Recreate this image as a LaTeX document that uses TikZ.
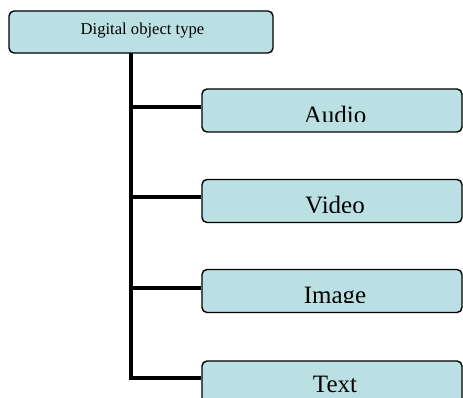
\documentclass[tikz,border=0pt]{standalone}
\usepackage{fontspec}
\setmainfont{Liberation Serif}
\definecolor{boxfill}{RGB}{186,224,227}
\begin{document}
\begin{tikzpicture}[x=1pt,y=-1pt,
  box/.style={draw=black,line width=1.4pt,fill=boxfill,rounded corners=5pt,minimum height=43pt,inner sep=0pt},
  leaf/.style={box,minimum width=260pt},
  rootbox/.style={box,minimum width=264pt,minimum height=42pt},
  conn/.style={line width=4.3pt,line join=miter,line cap=butt},
  lbl/.style={inner sep=0pt,anchor=base,font=\fontsize{25}{30}\selectfont},
  rootlbl/.style={inner sep=0pt,anchor=base,font=\fontsize{16.6}{20}\selectfont}]
\useasboundingbox (0,0) rectangle (463,398);
% root
\node[rootbox] (root) at (141,32) {};
\node[rootlbl] (rootl) at (142.5,34.3) {Digital object type};
% leaves
\node[leaf] (audio) at (332,110.5) {};
\node[leaf] (video) at (332,201) {};
\node[leaf] (image) at (332,291) {};
\node[leaf] (textbox) at (332,382.5) {};
\begin{scope}
\clip (audio.north west) rectangle (462,122);
\node[lbl] (audiol) at (335,123.5) {Audio};
\end{scope}
\begin{scope}
\clip (video.north west) rectangle (462,213);
\node[lbl] (videol) at (335,213.5) {Video};
\end{scope}
\begin{scope}
\clip (image.north west) rectangle (462,302);
\node[lbl] (imagel) at (335,303.5) {Image};
\end{scope}
\begin{scope}
\clip (textbox.north west) rectangle (462,392);
\node[lbl] (textl) at (335,392.5) {Text};
\end{scope}
% connectors
\coordinate (trunk) at (130.7,53);
\coordinate (aw) at ([yshift=3.5pt]audio.west);
\coordinate (vw) at ([yshift=4pt]video.west);
\coordinate (iw) at ([yshift=3pt]image.west);
\coordinate (tw) at ([yshift=4.5pt]textbox.west);
\draw[conn] (trunk) |- (tw);
\draw[conn] (trunk |- aw) -- (aw);
\draw[conn] (trunk |- vw) -- (vw);
\draw[conn] (trunk |- iw) -- (iw);
\end{tikzpicture}
\end{document}
